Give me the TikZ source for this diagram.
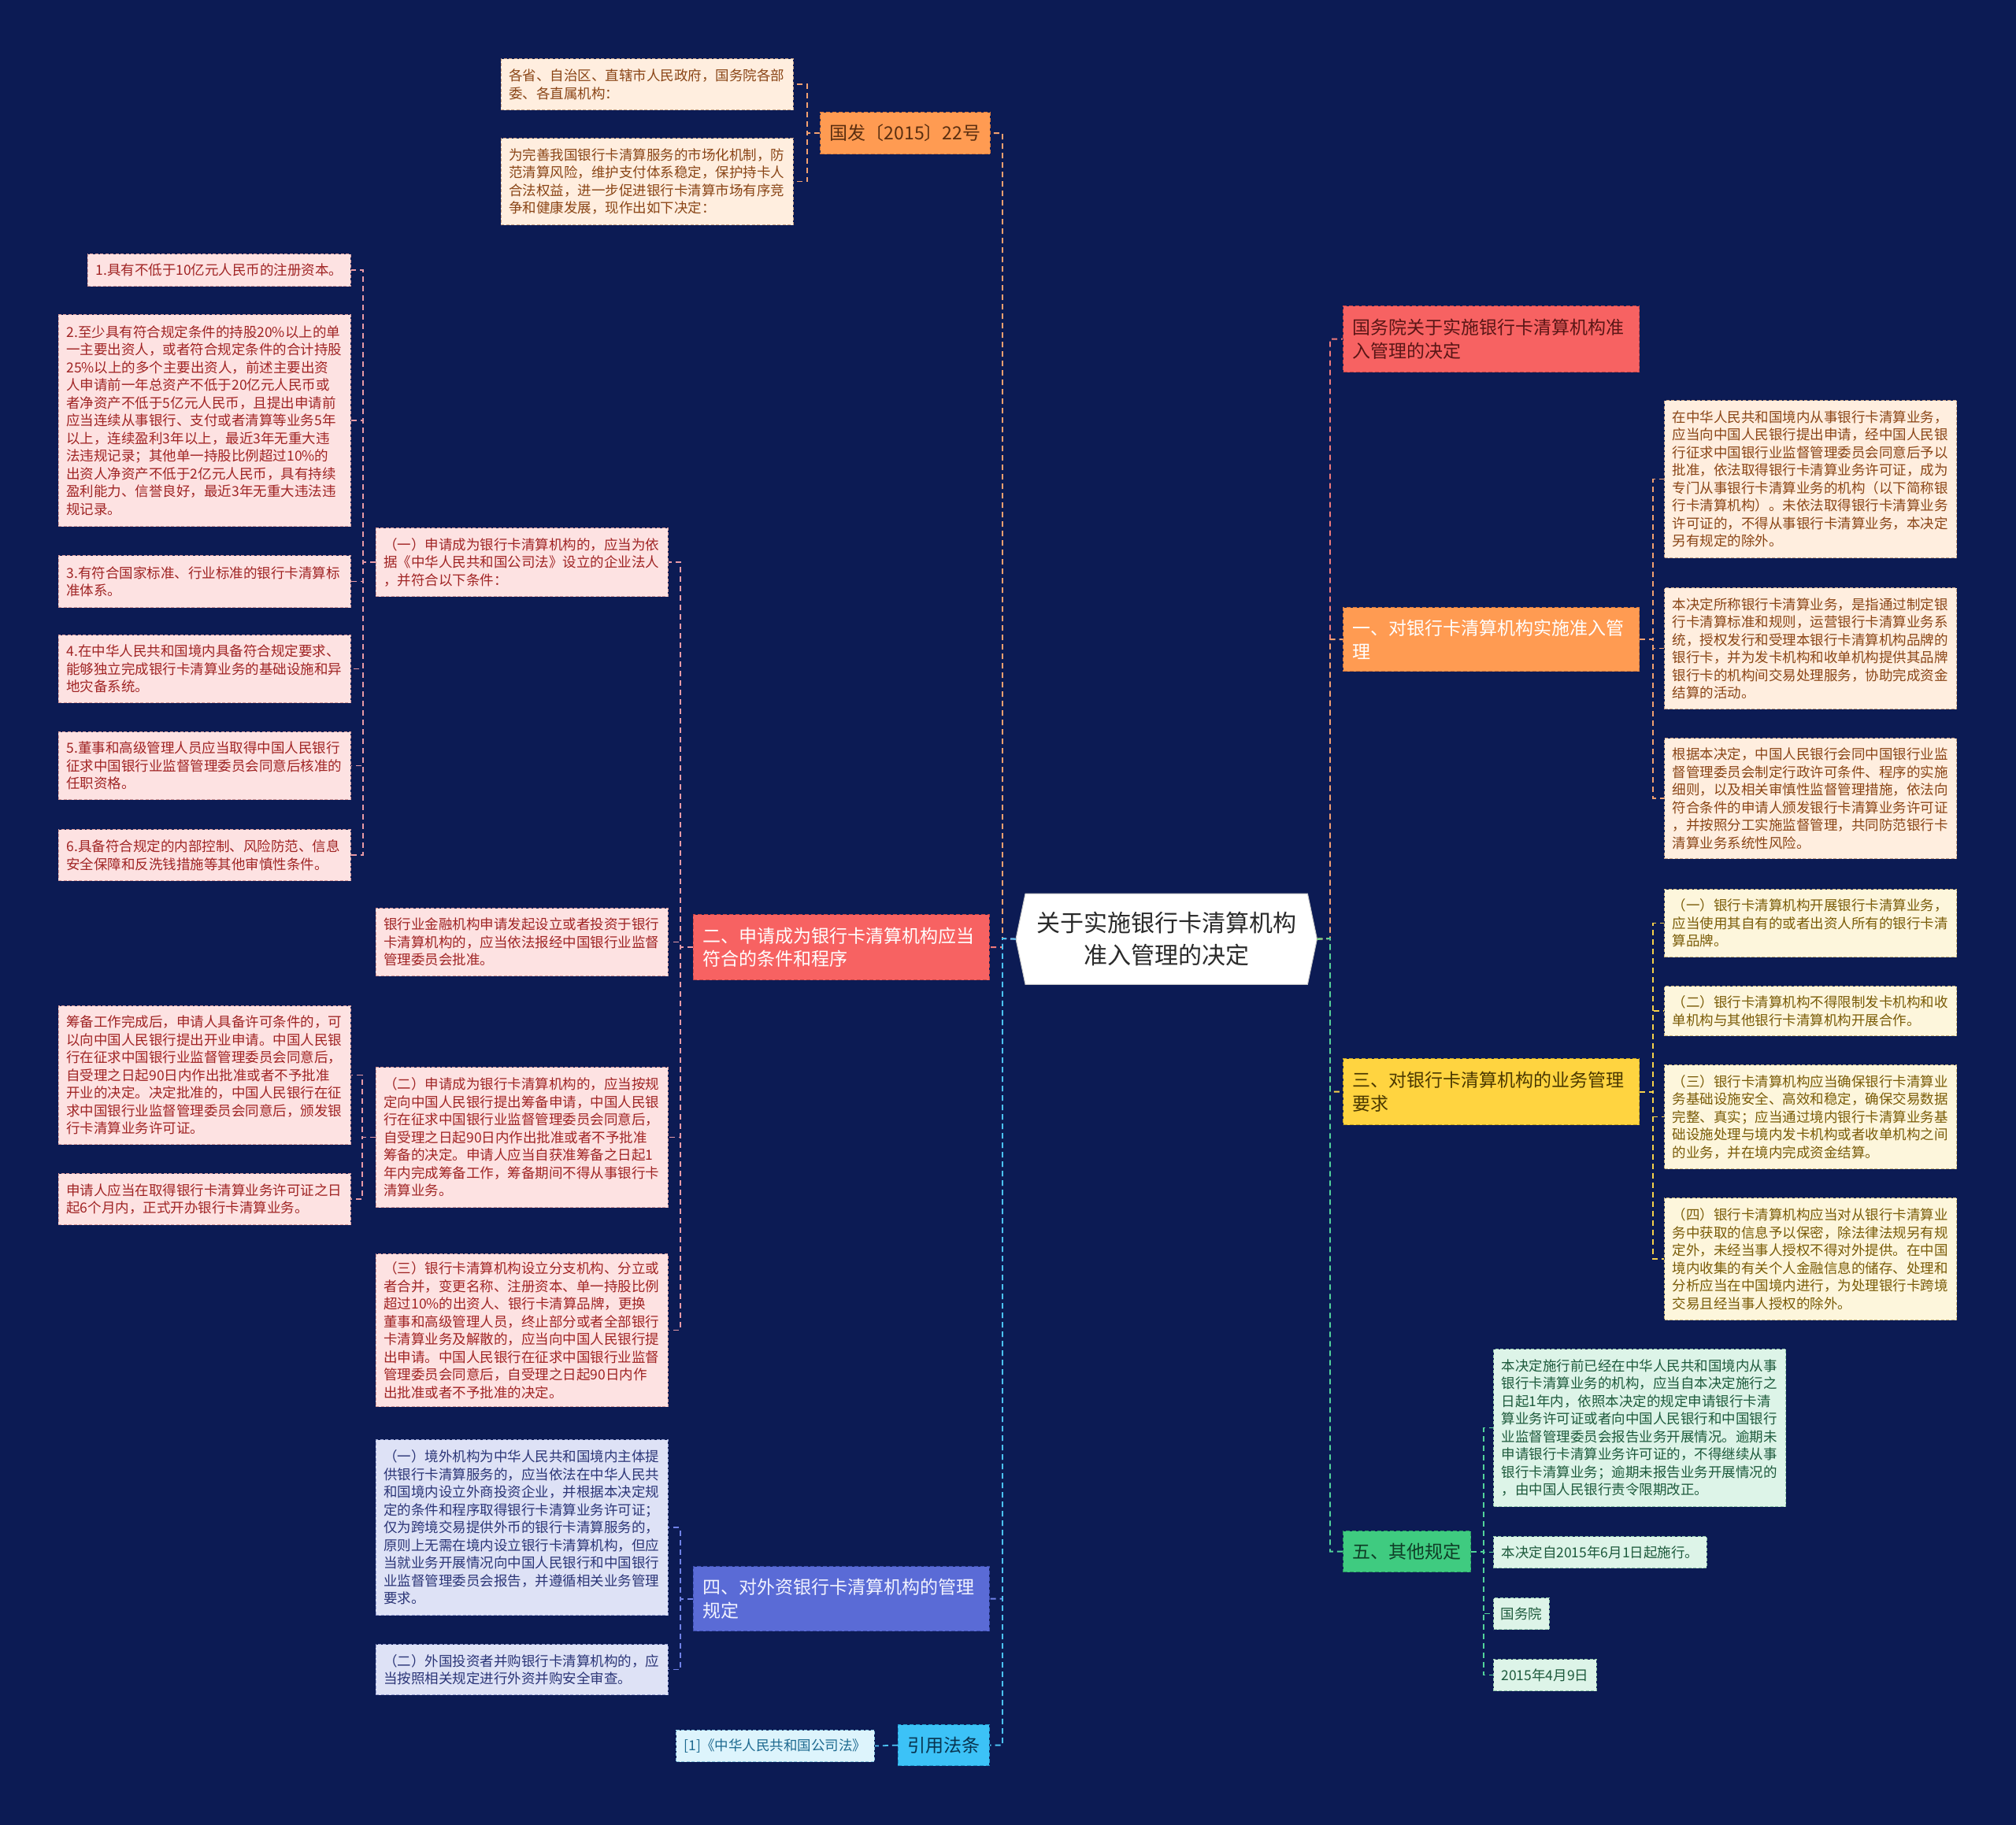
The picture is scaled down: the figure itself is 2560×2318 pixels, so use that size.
\documentclass[tikz,border=0pt]{standalone}
\usepackage{fontspec}
\newfontfamily\cjk{Noto Sans CJK SC}
\usetikzlibrary{calc}
\pgfdeclarelayer{background}
\pgfsetlayers{background,main}
\definecolor{bg}{HTML}{0C1B54}
\definecolor{ctext}{HTML}{2A2A2A}
\definecolor{cborder}{HTML}{C8C8C8}
% level-1 fills
\definecolor{orF}{HTML}{FF9B52}\definecolor{orB}{HTML}{D9773A}\definecolor{orT}{HTML}{5A2E10}
\definecolor{rdF}{HTML}{F76262}\definecolor{rdB}{HTML}{C84444}\definecolor{rdT}{HTML}{5A1616}
\definecolor{ylF}{HTML}{FFD440}\definecolor{ylB}{HTML}{C9A420}\definecolor{ylT}{HTML}{4A3800}
\definecolor{gnF}{HTML}{3FCB80}\definecolor{gnB}{HTML}{2A9A60}\definecolor{gnT}{HTML}{0F3D26}
\definecolor{buF}{HTML}{5A6BD6}\definecolor{buB}{HTML}{3E4EB0}\definecolor{buT}{HTML}{F2F3FF}
\definecolor{cyF}{HTML}{3CC2F7}\definecolor{cyB}{HTML}{2196C8}\definecolor{cyT}{HTML}{083450}
% leaf fills
\definecolor{orLF}{HTML}{FFEEDF}\definecolor{orLB}{HTML}{C9A285}\definecolor{orLT}{HTML}{8A4516}
\definecolor{rdLF}{HTML}{FDE2E2}\definecolor{rdLB}{HTML}{D89A9A}\definecolor{rdLT}{HTML}{A02424}
\definecolor{ylLF}{HTML}{FDF6DC}\definecolor{ylLB}{HTML}{CDB880}\definecolor{ylLT}{HTML}{7A5C08}
\definecolor{gnLF}{HTML}{DDF4E8}\definecolor{gnLB}{HTML}{92C8AA}\definecolor{gnLT}{HTML}{1D5A3C}
\definecolor{buLF}{HTML}{DEE2F6}\definecolor{buLB}{HTML}{9CA4D4}\definecolor{buLT}{HTML}{2B3577}
\definecolor{cyLF}{HTML}{DDF4FC}\definecolor{cyLB}{HTML}{8CC8E2}\definecolor{cyLT}{HTML}{1E6A90}
% connectors
\definecolor{orC}{HTML}{F2A070}\definecolor{rdC}{HTML}{F07A7A}\definecolor{rdC2}{HTML}{E89AA6}
\definecolor{ylC}{HTML}{F8D24A}\definecolor{gnC}{HTML}{52D49A}\definecolor{buC}{HTML}{7082E8}
\definecolor{cyC}{HTML}{4CC3F5}
\tikzset{
  base/.style={rectangle, inner ysep=0pt, align=left},
  leaf/.style={base, dash pattern=on 4pt off 2.5pt, line width=1.1pt, inner xsep=10pt,
    font=\cjk\fontsize{17.5}{22.5}\selectfont},
  wide/.style={text width=351pt},
  lvl/.style={base, dash pattern=on 5pt off 3pt, line width=1.2pt, inner xsep=12pt,
    font=\cjk\fontsize{23}{29.5}\selectfont},
  lwide/.style={text width=352pt},
  lOr/.style={leaf, draw=orLB, fill=orLF, text=orLT},
  lRd/.style={leaf, draw=rdLB, fill=rdLF, text=rdLT},
  lYl/.style={leaf, draw=ylLB, fill=ylLF, text=ylLT},
  lGn/.style={leaf, draw=gnLB, fill=gnLF, text=gnLT},
  lBu/.style={leaf, draw=buLB, fill=buLF, text=buLT},
  lCy/.style={leaf, draw=cyLB, fill=cyLF, text=cyLT},
  con/.style={line width=1.8pt, dash pattern=on 7pt off 5pt}
}
\begin{document}
\begin{tikzpicture}[x=1pt,y=-1pt]
\useasboundingbox (0,0) rectangle (2560,2318);

% ---------- centre ----------
\node[base, align=center, minimum width=382, minimum height=115, inner xsep=0pt,
  text=ctext, font=\cjk\fontsize{30}{41}\selectfont, anchor=north west]
  (center) at (1290,1135) {关于实施银行卡清算机构\\准入管理的决定};
\begin{pgfonlayer}{background}
\fill[bg] (0,0) rectangle (2560,2318);
\filldraw[fill=white, draw=cborder, line width=1pt]
  ($(center.north west)+(12,0)$) -- (center.west) -- ($(center.south west)+(12,0)$)
  -- ($(center.south east)+(-12,0)$) -- (center.east) -- ($(center.north east)+(-12,0)$) -- cycle;
\end{pgfonlayer}

% ---------- left level 1 ----------
\node[lvl, draw=orB, fill=orF, text=orT, minimum height=53, anchor=north east] (guofa) at (1258,142) {国发〔2015〕22号};
\node[lvl, lwide, draw=rdB, fill=rdF, text=white, minimum height=83, anchor=north east] (er) at (1257,1161) {二、申请成为银行卡清算机构应当\\符合的条件和程序};
\node[lvl, lwide, draw=buB, fill=buF, text=buT, minimum height=82, anchor=north east] (si) at (1257,1989) {四、对外资银行卡清算机构的管理\\规定};
\node[lvl, draw=cyB, fill=cyF, text=cyT, minimum height=52, anchor=north east] (yy) at (1257,2190) {引用法条};

% ---------- right level 1 ----------
\node[lvl, lwide, draw=rdB, fill=rdF, text=rdT, minimum height=84, anchor=north west] (gwy) at (1705,388) {国务院关于实施银行卡清算机构准\\入管理的决定};
\node[lvl, lwide, draw=orB, fill=orF, text=white, minimum height=81, anchor=north west] (yi) at (1705,771) {一、对银行卡清算机构实施准入管\\理};
\node[lvl, lwide, draw=ylB, fill=ylF, text=ylT, minimum height=84, anchor=north west] (san) at (1705,1344) {三、对银行卡清算机构的业务管理\\要求};
\node[lvl, draw=gnB, fill=gnF, text=gnT, minimum height=52, anchor=north west] (wu) at (1705,1944) {五、其他规定};

% ---------- 国发 leaves ----------
\node[lOr, wide, minimum height=65, anchor=north east] (gl1) at (1008,74) {各省、自治区、直辖市人民政府，国务院各部\\委、各直属机构：};
\node[lOr, wide, minimum height=110, anchor=north east] (gl2) at (1008,175) {为完善我国银行卡清算服务的市场化机制，防\\范清算风险，维护支付体系稳定，保护持卡人\\合法权益，进一步促进银行卡清算市场有序竞\\争和健康发展，现作出如下决定：};

% ---------- 二 leaves ----------
\node[lRd, wide, minimum height=87, anchor=north east] (e1) at (849,670) {（一）申请成为银行卡清算机构的，应当为依\\据《中华人民共和国公司法》设立的企业法人\\，并符合以下条件：};
\node[lRd, wide, minimum height=86, anchor=north east] (e2) at (849,1153) {银行业金融机构申请发起设立或者投资于银行\\卡清算机构的，应当依法报经中国银行业监督\\管理委员会批准。};
\node[lRd, wide, minimum height=178, anchor=north east] (e3) at (849,1355) {（二）申请成为银行卡清算机构的，应当按规\\定向中国人民银行提出筹备申请，中国人民银\\行在征求中国银行业监督管理委员会同意后，\\自受理之日起90日内作出批准或者不予批准\\筹备的决定。申请人应当自获准筹备之日起1\\年内完成筹备工作，筹备期间不得从事银行卡\\清算业务。};
\node[lRd, wide, minimum height=194, anchor=north east] (e4) at (849,1592) {（三）银行卡清算机构设立分支机构、分立或\\者合并，变更名称、注册资本、单一持股比例\\超过10\%的出资人、银行卡清算品牌，更换\\董事和高级管理人员，终止部分或者全部银行\\卡清算业务及解散的，应当向中国人民银行提\\出申请。中国人民银行在征求中国银行业监督\\管理委员会同意后，自受理之日起90日内作\\出批准或者不予批准的决定。};

% ---------- conditions ----------
\node[lRd, minimum height=41, anchor=north east] (c1) at (446,322) {1.具有不低于10亿元人民币的注册资本。};
\node[lRd, wide, minimum height=269, anchor=north east] (c2) at (446,399) {2.至少具有符合规定条件的持股20\%以上的单\\一主要出资人，或者符合规定条件的合计持股\\25\%以上的多个主要出资人，前述主要出资\\人申请前一年总资产不低于20亿元人民币或\\者净资产不低于5亿元人民币，且提出申请前\\应当连续从事银行、支付或者清算等业务5年\\以上，连续盈利3年以上，最近3年无重大违\\法违规记录；其他单一持股比例超过10\%的\\出资人净资产不低于2亿元人民币，具有持续\\盈利能力、信誉良好，最近3年无重大违法违\\规记录。};
\node[lRd, wide, minimum height=66, anchor=north east] (c3) at (446,705) {3.有符合国家标准、行业标准的银行卡清算标\\准体系。};
\node[lRd, wide, minimum height=86, anchor=north east] (c4) at (446,806) {4.在中华人民共和国境内具备符合规定要求、\\能够独立完成银行卡清算业务的基础设施和异\\地灾备系统。};
\node[lRd, wide, minimum height=86, anchor=north east] (c5) at (446,929) {5.董事和高级管理人员应当取得中国人民银行\\征求中国银行业监督管理委员会同意后核准的\\任职资格。};
\node[lRd, wide, minimum height=65, anchor=north east] (c6) at (446,1053) {6.具备符合规定的内部控制、风险防范、信息\\安全保障和反洗钱措施等其他审慎性条件。};
\node[lRd, wide, minimum height=176, anchor=north east] (c7) at (446,1277) {筹备工作完成后，申请人具备许可条件的，可\\以向中国人民银行提出开业申请。中国人民银\\行在征求中国银行业监督管理委员会同意后，\\自受理之日起90日内作出批准或者不予批准\\开业的决定。决定批准的，中国人民银行在征\\求中国银行业监督管理委员会同意后，颁发银\\行卡清算业务许可证。};
\node[lRd, wide, minimum height=65, anchor=north east] (c8) at (446,1490) {申请人应当在取得银行卡清算业务许可证之日\\起6个月内，正式开办银行卡清算业务。};

% ---------- 四 leaves ----------
\node[lBu, wide, minimum height=223, anchor=north east] (f1) at (849,1828) {（一）境外机构为中华人民共和国境内主体提\\供银行卡清算服务的，应当依法在中华人民共\\和国境内设立外商投资企业，并根据本决定规\\定的条件和程序取得银行卡清算业务许可证；\\仅为跨境交易提供外币的银行卡清算服务的，\\原则上无需在境内设立银行卡清算机构，但应\\当就业务开展情况向中国人民银行和中国银行\\业监督管理委员会报告，并遵循相关业务管理\\要求。};
\node[lBu, wide, minimum height=64, anchor=north east] (f2) at (849,2088) {（二）外国投资者并购银行卡清算机构的，应\\当按照相关规定进行外资并购安全审查。};

% ---------- 引用 leaf ----------
\node[lCy, minimum height=40, anchor=north east] (y1) at (1111,2197) {[1]《中华人民共和国公司法》};

% ---------- 一 leaves ----------
\node[lOr, wide, minimum height=200, anchor=north west] (a1) at (2113,508) {在中华人民共和国境内从事银行卡清算业务，\\应当向中国人民银行提出申请，经中国人民银\\行征求中国银行业监督管理委员会同意后予以\\批准，依法取得银行卡清算业务许可证，成为\\专门从事银行卡清算业务的机构（以下简称银\\行卡清算机构）。未依法取得银行卡清算业务\\许可证的，不得从事银行卡清算业务，本决定\\另有规定的除外。};
\node[lOr, wide, minimum height=154, anchor=north west] (a2) at (2113,746) {本决定所称银行卡清算业务，是指通过制定银\\行卡清算标准和规则，运营银行卡清算业务系\\统，授权发行和受理本银行卡清算机构品牌的\\银行卡，并为发卡机构和收单机构提供其品牌\\银行卡的机构间交易处理服务，协助完成资金\\结算的活动。};
\node[lOr, wide, minimum height=153, anchor=north west] (a3) at (2113,937) {根据本决定，中国人民银行会同中国银行业监\\督管理委员会制定行政许可条件、程序的实施\\细则，以及相关审慎性监督管理措施，依法向\\符合条件的申请人颁发银行卡清算业务许可证\\，并按照分工实施监督管理，共同防范银行卡\\清算业务系统性风险。};

% ---------- 三 leaves ----------
\node[lYl, wide, minimum height=86, anchor=north west] (b1) at (2113,1129) {（一）银行卡清算机构开展银行卡清算业务，\\应当使用其自有的或者出资人所有的银行卡清\\算品牌。};
\node[lYl, wide, minimum height=63, anchor=north west] (b2) at (2113,1252) {（二）银行卡清算机构不得限制发卡机构和收\\单机构与其他银行卡清算机构开展合作。};
\node[lYl, wide, minimum height=132, anchor=north west] (b3) at (2113,1352) {（三）银行卡清算机构应当确保银行卡清算业\\务基础设施安全、高效和稳定，确保交易数据\\完整、真实；应当通过境内银行卡清算业务基\\础设施处理与境内发卡机构或者收单机构之间\\的业务，并在境内完成资金结算。};
\node[lYl, wide, minimum height=155, anchor=north west] (b4) at (2113,1521) {（四）银行卡清算机构应当对从银行卡清算业\\务中获取的信息予以保密，除法律法规另有规\\定外，未经当事人授权不得对外提供。在中国\\境内收集的有关个人金融信息的储存、处理和\\分析应当在中国境内进行，为处理银行卡跨境\\交易且经当事人授权的除外。};

% ---------- 五 leaves ----------
\node[lGn, wide, minimum height=200, anchor=north west] (d1) at (1896,1713) {本决定施行前已经在中华人民共和国境内从事\\银行卡清算业务的机构，应当自本决定施行之\\日起1年内，依照本决定的规定申请银行卡清\\算业务许可证或者向中国人民银行和中国银行\\业监督管理委员会报告业务开展情况。逾期未\\申请银行卡清算业务许可证的，不得继续从事\\银行卡清算业务；逾期未报告业务开展情况的\\，由中国人民银行责令限期改正。};
\node[lGn, minimum height=40, anchor=north west] (d2) at (1896,1951) {本决定自2015年6月1日起施行。};
\node[lGn, minimum height=40, anchor=north west, inner xsep=9pt] (d3) at (1896,2029) {国务院};
\node[lGn, minimum height=40, anchor=north west] (d4) at (1896,2107) {2015年4月9日};

% ---------- connectors: centre to level 1 ----------
\coordinate (LT) at (1273,1192);
\coordinate (RT) at (1689,1192);
\draw[con, orC] (center.west) -- (LT) |- (guofa.east);
\draw[con, rdC] (center.west) -- (LT) |- (er.east);
\draw[con, buC] (center.west) -- (LT) |- (si.east);
\draw[con, cyC] (center.west) -- (LT) |- (yy.east);
\draw[con, rdC] (center.east) -- (RT) |- (gwy.west);
\draw[con, orC] (center.east) -- (RT) |- (yi.west);
\draw[con, ylC] (center.east) -- (RT) |- (san.west);
\draw[con, gnC] (center.east) -- (RT) |- (wu.west);

% ---------- connectors: level 1 to leaves ----------
\foreach \t in {gl1,gl2} \draw[con, orC] (guofa.west) -- ++(-16,0) |- (\t.east);
\foreach \t in {e1,e2,e3,e4} \draw[con, rdC2] (er.west) -- ++(-16,0) |- (\t.east);
\foreach \t in {c1,c2,c3,c4,c5,c6} \draw[con, rdC2] (e1.west) -- ++(-16,0) |- (\t.east);
\foreach \t in {c7,c8} \draw[con, rdC2] (e3.west) -- ++(-17,0) |- (\t.east);
\foreach \t in {f1,f2} \draw[con, buC] (si.west) -- ++(-16,0) |- (\t.east);
\draw[con, cyC] (yy.west) -- (y1.east);
\foreach \t in {a1,a2,a3} \draw[con, orC] (yi.east) -- ++(17,0) |- (\t.west);
\foreach \t in {b1,b2,b3,b4} \draw[con, ylC] (san.east) -- ++(17,0) |- (\t.west);
\foreach \t in {d1,d2,d3,d4} \draw[con, gnC] (wu.east) -- ++(16,0) |- (\t.west);
\end{tikzpicture}
\end{document}
